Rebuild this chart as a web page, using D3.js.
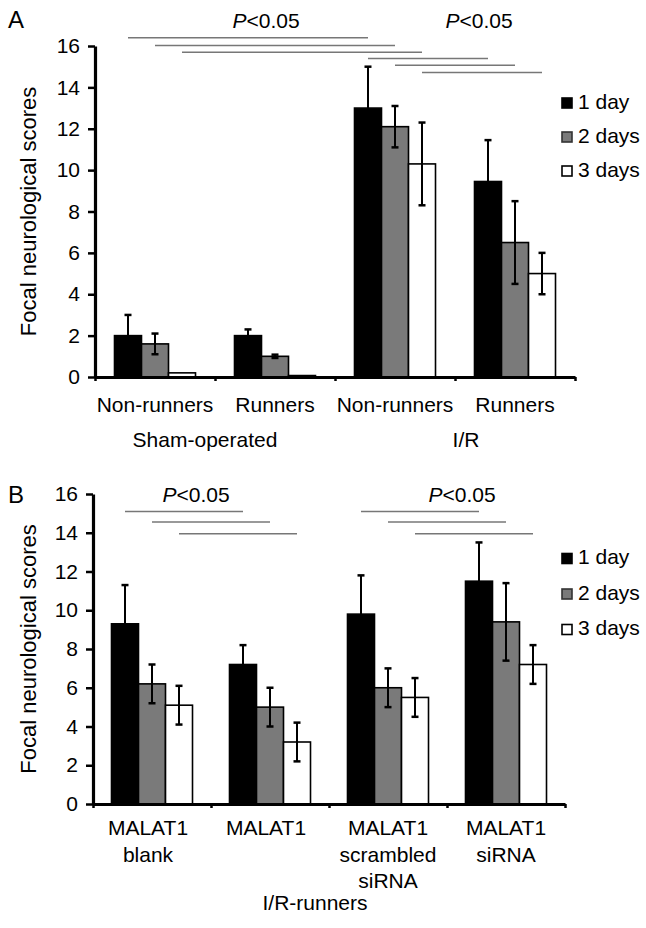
<!DOCTYPE html>
<html>
<head>
<meta charset="utf-8">
<script src="https://cdn.jsdelivr.net/npm/d3@7"></script>
<style>
  html, body { margin: 0; padding: 0; background: #fff; }
  svg { display: block; }
  text { font-family: "Liberation Sans", Arial, Helvetica, sans-serif; fill: #000; }
</style>
</head>
<body>
<svg id="chart" width="646" height="928"></svg>
<script>
// ---------- DATA ----------
const seriesNames = ["1 day", "2 days", "3 days"];
const seriesColors = ["#000000", "#7a7a7a", "#ffffff"];
const yTicks = [0, 2, 4, 6, 8, 10, 12, 14, 16];

// Panel A
const groupsA = ["Sham Non-runners", "Sham Runners", "I/R Non-runners", "I/R Runners"];
const labelsA = [["Non-runners"], ["Runners"], ["Non-runners"], ["Runners"]];
const superLabelsA = ["Sham-operated", "I/R"];
const day1A = [2.0, 2.0, 13.0, 9.45];
const day2A = [1.6, 1.0, 12.1, 6.5];
const day3A = [0.2, 0.07, 10.3, 5.0];
const err1A = [1.0, 0.3, 2.0, 2.0];
const err2A = [0.5, 0.08, 1.0, 2.0];
const err3A = [0, 0, 2.0, 1.0];
// significance bars: [fromGroup, fromSeries, toGroup, toSeries, level]
const sigA = [
  [0, 0, 2, 0, 16.4], [0, 1, 2, 1, 16.02], [0, 2, 2, 2, 15.7],
  [2, 0, 3, 0, 15.4], [2, 1, 3, 1, 15.07], [2, 2, 3, 2, 14.72]
];

// Panel B
const groupsB = ["MALAT1 blank", "MALAT1", "MALAT1 scrambled siRNA", "MALAT1 siRNA"];
const labelsB = [["MALAT1", "blank"], ["MALAT1"], ["MALAT1", "scrambled", "siRNA"], ["MALAT1", "siRNA"]];
const superLabelB = "I/R-runners";
const day1B = [9.3, 7.2, 9.8, 11.5];
const day2B = [6.2, 5.0, 6.0, 9.4];
const day3B = [5.1, 3.2, 5.5, 7.2];
const err1B = [2.0, 1.0, 2.0, 2.0];
const err2B = [1.0, 1.0, 1.0, 2.0];
const err3B = [1.0, 1.0, 1.0, 1.0];
const sigB = [
  [0, 0, 1, 0, 15.1], [0, 1, 1, 1, 14.55], [0, 2, 1, 2, 13.95],
  [2, 0, 3, 0, 15.1], [2, 1, 3, 1, 14.55], [2, 2, 3, 2, 13.95]
];

// ---------- DRAW ----------
const svg = d3.select("#chart");
svg.append("rect").attr("width", 646).attr("height", 928).attr("fill", "#fff");

const FONT = 21;

function panel(cfg) {
  const g = svg.append("g");
  const x = d3.scaleBand().domain(cfg.groups).range([cfg.x0, cfg.x1]).padding(0);
  const xs = d3.scaleBand().domain(seriesNames).range([0, x.bandwidth()])
    .paddingInner(0).paddingOuter(cfg.outer);
  const y = d3.scaleLinear().domain([0, 16]).range([cfg.y0, cfg.y1]);

  const values = [cfg.d1, cfg.d2, cfg.d3];
  const errs = [cfg.e1, cfg.e2, cfg.e3];
  const rows = [];
  cfg.groups.forEach((grp, gi) => {
    seriesNames.forEach((s, si) => {
      rows.push({ grp, gi, s, si, v: values[si][gi], e: errs[si][gi] });
    });
  });

  // error bars (drawn first, bars over? no: bars then errors)
  const bars = g.append("g");
  bars.selectAll("rect").data(rows).join("rect")
    .attr("x", d => x(d.grp) + xs(d.s))
    .attr("y", d => y(d.v))
    .attr("width", xs.bandwidth())
    .attr("height", d => y(0) - y(d.v))
    .attr("fill", d => seriesColors[d.si])
    .attr("stroke", "#000")
    .attr("stroke-width", 1.6);

  const eb = g.append("g").attr("stroke", "#000").attr("stroke-width", 2);
  rows.filter(d => d.e > 0).forEach(d => {
    const cx = x(d.grp) + xs(d.s) + xs.bandwidth() / 2;
    const top = y(d.v + d.e), bot = y(Math.max(0, d.v - d.e));
    eb.append("line").attr("x1", cx).attr("x2", cx).attr("y1", top).attr("y2", bot);
    eb.append("line").attr("x1", cx - 3.5).attr("x2", cx + 3.5).attr("y1", top).attr("y2", top).attr("stroke-width", 2.5);
    eb.append("line").attr("x1", cx - 3.5).attr("x2", cx + 3.5).attr("y1", bot).attr("y2", bot).attr("stroke-width", 2.5);
  });

  // y axis
  const ya = g.append("g").attr("transform", `translate(${cfg.x0},0)`)
    .call(d3.axisLeft(y).tickValues(yTicks).tickSize(7).tickSizeOuter(0).tickPadding(8));
  ya.select(".domain").attr("stroke-width", 3.2).attr("stroke", "#000");
  ya.selectAll(".tick line").attr("stroke-width", 2.5).attr("stroke", "#000");
  ya.selectAll(".tick text").attr("font-size", FONT).attr("font-family", null).attr("fill", "#000");

  // x axis (ticks at group boundaries)
  const xb = d3.scaleLinear().domain([0, cfg.groups.length]).range([cfg.x0, cfg.x1]);
  const xa = g.append("g").attr("transform", `translate(0,${cfg.y0})`)
    .call(d3.axisBottom(xb).tickValues(d3.range(0, cfg.groups.length + 1)).tickSize(4).tickSizeOuter(0).tickFormat(""));
  xa.select(".domain").attr("stroke-width", 3.2).attr("stroke", "#000");
  xa.selectAll(".tick line").attr("stroke-width", 2.5).attr("stroke", "#000");

  // category labels
  cfg.labels.forEach((lines, gi) => {
    const t = g.append("text").attr("text-anchor", "middle").attr("font-size", FONT)
      .attr("x", x(cfg.groups[gi]) + x.bandwidth() / 2 + (cfg.labelShift ? cfg.labelShift[gi] : 0))
      .attr("y", cfg.labelY);
    lines.forEach((ln, li) => {
      t.append("tspan").attr("x", x(cfg.groups[gi]) + x.bandwidth() / 2 + (cfg.labelShift ? cfg.labelShift[gi] : 0))
        .attr("dy", li === 0 ? 0 : cfg.lineGap).text(ln);
    });
  });

  // y title
  g.append("text").attr("text-anchor", "middle").attr("font-size", 22)
    .attr("transform", `translate(36,${(cfg.y0 + cfg.y1) / 2}) rotate(-90)`)
    .text("Focal neurological scores");

  // significance lines
  const sg = g.append("g").attr("stroke", "#777").attr("stroke-width", 1.5);
  cfg.sig.forEach(s => {
    const xa1 = x(cfg.groups[s[0]]) + xs(seriesNames[s[1]]) + xs.bandwidth() / 2;
    const xa2 = x(cfg.groups[s[2]]) + xs(seriesNames[s[3]]) + xs.bandwidth() / 2;
    sg.append("line").attr("x1", xa1).attr("x2", xa2).attr("y1", y(s[4])).attr("y2", y(s[4]));
  });
  cfg.pLabels.forEach(p => {
    const t = g.append("text").attr("text-anchor", "middle").attr("font-size", FONT)
      .attr("x", p[0]).attr("y", p[1]);
    t.append("tspan").attr("font-style", "italic").text("P");
    t.append("tspan").text("<0.05");
  });

  // legend
  const lg = g.append("g");
  seriesNames.forEach((s, i) => {
    const by = cfg.legendY + i * cfg.legendGap;
    lg.append("rect").attr("x", 562).attr("y", by - 10.5).attr("width", 10).attr("height", 10)
      .attr("fill", seriesColors[i]).attr("stroke", i === 1 ? "#333" : "#000").attr("stroke-width", 1.6);
    lg.append("text").attr("x", 578).attr("y", by).attr("font-size", FONT).text(s);
  });

  // panel letter
  g.append("text").attr("x", 8).attr("y", cfg.letterY).attr("font-size", 24).text(cfg.letter);
  return { x, y };
}

panel({
  groups: groupsA, labels: labelsA, d1: day1A, d2: day2A, d3: day3A,
  e1: err1A, e2: err2A, e3: err3A, sig: sigA,
  x0: 95, x1: 575, y0: 377, y1: 46, outer: 0.722,
  labelY: 412, lineGap: 26,
  pLabels: [[266, 28], [479, 28]],
  legendY: 108.5, legendGap: 34,
  letter: "A", letterY: 28
});
svg.append("text").attr("x", 205).attr("y", 447).attr("text-anchor", "middle").attr("font-size", FONT).text(superLabelsA[0]);
svg.append("text").attr("x", 466).attr("y", 447).attr("text-anchor", "middle").attr("font-size", FONT).text(superLabelsA[1]);

panel({
  groups: groupsB, labels: labelsB, d1: day1B, d2: day2B, d3: day3B,
  e1: err1B, e2: err2B, e3: err3B, sig: sigB,
  x0: 93, x1: 565, y0: 804, y1: 494, outer: 0.685,
  labelY: 835, lineGap: 26.5, labelShift: [-4, -4, 0, 0],
  pLabels: [[196, 502], [462, 502]],
  legendY: 564, legendGap: 35.5,
  letter: "B", letterY: 503
});
svg.append("text").attr("x", 315).attr("y", 910).attr("text-anchor", "middle").attr("font-size", FONT).text(superLabelB);
</script>
</body>
</html>
